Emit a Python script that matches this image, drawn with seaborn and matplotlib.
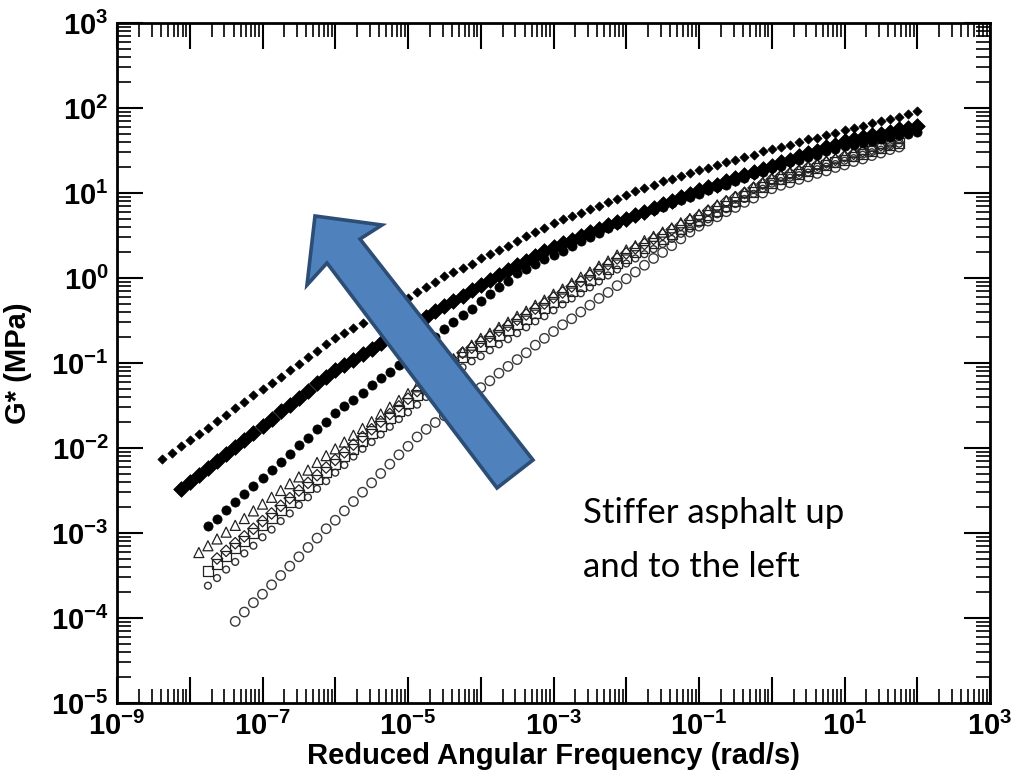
import numpy as np
import pandas as pd
import matplotlib
matplotlib.use("Agg")
import matplotlib.pyplot as plt
import seaborn as sns
from matplotlib.ticker import LogLocator, FuncFormatter, NullFormatter
from matplotlib.patches import Polygon

# ---------------- data (log10 values) ----------------
LOG_FREQ = [
    -8.375, -8.25, -8.125, -8.0, -7.875, -7.75, -7.625, -7.5,
    -7.375, -7.25, -7.125, -7.0, -6.875, -6.75, -6.625, -6.5,
    -6.375, -6.25, -6.125, -6.0, -5.875, -5.75, -5.625, -5.5,
    -5.375, -5.25, -5.125, -5.0, -4.875, -4.75, -4.625, -4.5,
    -4.375, -4.25, -4.125, -4.0, -3.875, -3.75, -3.625, -3.5,
    -3.375, -3.25, -3.125, -3.0, -2.875, -2.75, -2.625, -2.5,
    -2.375, -2.25, -2.125, -2.0, -1.875, -1.75, -1.625, -1.5,
    -1.375, -1.25, -1.125, -1.0, -0.875, -0.75, -0.625, -0.5,
    -0.375, -0.25, -0.125, 0.0, 0.125, 0.25, 0.375, 0.5,
    0.625, 0.75, 0.875, 1.0, 1.125, 1.25, 1.375, 1.5,
    1.625, 1.75, 1.875, 2.0,
]

# filled small diamonds (stiffest)
G_A_START = -8.375
G_A = [
    -2.13, -2.06, -1.98, -1.91, -1.83, -1.76, -1.68, -1.61,
    -1.53, -1.46, -1.38, -1.31, -1.23, -1.16, -1.08, -1.01,
    -0.93, -0.86, -0.78, -0.71, -0.65, -0.59, -0.53, -0.47,
    -0.41, -0.35, -0.29, -0.23, -0.17, -0.11, -0.05, 0.02,
    0.07, 0.12, 0.17, 0.23, 0.28, 0.33, 0.38, 0.44,
    0.49, 0.54, 0.59, 0.65, 0.69, 0.73, 0.77, 0.81,
    0.85, 0.89, 0.93, 0.98, 1.02, 1.06, 1.10, 1.14,
    1.17, 1.20, 1.24, 1.27, 1.30, 1.33, 1.36, 1.39,
    1.42, 1.45, 1.49, 1.52, 1.54, 1.57, 1.60, 1.63,
    1.65, 1.68, 1.71, 1.74, 1.76, 1.79, 1.82, 1.85,
    1.87, 1.90, 1.93, 1.96,
]
# filled large diamonds
G_B_START = -8.125
G_B = [
    -2.48, -2.40, -2.32, -2.23, -2.15, -2.07, -1.99, -1.90,
    -1.82, -1.74, -1.66, -1.57, -1.49, -1.41, -1.33, -1.24,
    -1.16, -1.08, -1.02, -0.96, -0.89, -0.83, -0.77, -0.71,
    -0.64, -0.58, -0.52, -0.46, -0.39, -0.33, -0.27, -0.21,
    -0.14, -0.08, -0.02, 0.03, 0.09, 0.15, 0.20, 0.26,
    0.32, 0.37, 0.41, 0.45, 0.49, 0.54, 0.58, 0.62,
    0.66, 0.70, 0.74, 0.78, 0.82, 0.87, 0.91, 0.95,
    0.99, 1.03, 1.07, 1.10, 1.14, 1.18, 1.21, 1.25,
    1.28, 1.32, 1.36, 1.39, 1.43, 1.47, 1.50, 1.54,
    1.57, 1.61, 1.63, 1.66, 1.68, 1.70, 1.72, 1.75,
    1.77, 1.79,
]
# filled circles
G_C_START = -7.75
G_C = [
    -2.92, -2.83, -2.73, -2.64, -2.54, -2.45, -2.35, -2.26,
    -2.16, -2.07, -1.97, -1.88, -1.78, -1.69, -1.59, -1.51,
    -1.43, -1.35, -1.26, -1.18, -1.10, -1.02, -0.93, -0.85,
    -0.77, -0.69, -0.60, -0.52, -0.44, -0.36, -0.27, -0.19,
    -0.11, -0.03, 0.06, 0.11, 0.17, 0.22, 0.27, 0.32,
    0.38, 0.43, 0.48, 0.53, 0.59, 0.64, 0.69, 0.73,
    0.77, 0.80, 0.84, 0.88, 0.92, 0.95, 0.99, 1.03,
    1.07, 1.10, 1.14, 1.18, 1.22, 1.25, 1.29, 1.32,
    1.36, 1.39, 1.42, 1.45, 1.49, 1.52, 1.55, 1.57,
    1.59, 1.61, 1.64, 1.66, 1.68, 1.70, 1.72,
]
# open triangles
G_D_START = -7.875
G_D = [
    -3.23, -3.15, -3.07, -2.99, -2.91, -2.83, -2.74, -2.66,
    -2.58, -2.50, -2.42, -2.34, -2.26, -2.17, -2.09, -2.01,
    -1.93, -1.85, -1.77, -1.69, -1.60, -1.52, -1.44, -1.36,
    -1.28, -1.20, -1.12, -1.03, -0.95, -0.87, -0.79, -0.71,
    -0.65, -0.58, -0.52, -0.45, -0.39, -0.32, -0.26, -0.19,
    -0.13, -0.06, 0.01, 0.07, 0.14, 0.20, 0.27, 0.33,
    0.38, 0.44, 0.49, 0.54, 0.59, 0.65, 0.70, 0.75,
    0.80, 0.86, 0.91, 0.96, 1.01, 1.07, 1.12, 1.17,
    1.21, 1.24, 1.27, 1.31, 1.34, 1.38, 1.41, 1.44,
    1.48, 1.51, 1.55, 1.58, 1.61, 1.64,
]
# open squares
G_E_START = -7.75
G_E = [
    -3.45, -3.36, -3.27, -3.18, -3.09, -3.00, -2.91, -2.82,
    -2.73, -2.64, -2.55, -2.46, -2.37, -2.28, -2.19, -2.10,
    -2.01, -1.92, -1.83, -1.74, -1.65, -1.56, -1.47, -1.38,
    -1.29, -1.20, -1.11, -1.02, -0.93, -0.87, -0.80, -0.74,
    -0.67, -0.61, -0.54, -0.48, -0.41, -0.35, -0.28, -0.22,
    -0.15, -0.09, -0.02, 0.05, 0.11, 0.18, 0.24, 0.30,
    0.35, 0.41, 0.46, 0.52, 0.57, 0.63, 0.68, 0.74,
    0.79, 0.85, 0.90, 0.96, 1.01, 1.07, 1.12, 1.16,
    1.19, 1.22, 1.26, 1.29, 1.33, 1.36, 1.39, 1.43,
    1.46, 1.49, 1.53, 1.56, 1.59,
]
# open diamonds
G_E2_START = -7.625
G_E2 = [
    -3.30, -3.21, -3.12, -3.04, -2.95, -2.86, -2.77, -2.68,
    -2.59, -2.50, -2.41, -2.32, -2.23, -2.14, -2.05, -1.96,
    -1.87, -1.78, -1.69, -1.60, -1.51, -1.42, -1.33, -1.24,
    -1.15, -1.06, -0.97, -0.88, -0.82, -0.75, -0.69, -0.62,
    -0.56, -0.49, -0.43, -0.36, -0.30, -0.23, -0.17, -0.10,
    -0.04, 0.03, 0.10, 0.16, 0.23, 0.29, 0.35, 0.40,
    0.46, 0.51, 0.57, 0.62, 0.68, 0.73, 0.79, 0.84,
    0.90, 0.95, 1.00, 1.06, 1.11, 1.16, 1.20, 1.23,
    1.26, 1.30, 1.33, 1.36, 1.39, 1.43, 1.46, 1.49,
    1.52, 1.56, 1.59,
]
# small open circles
G_F_START = -7.75
G_F = [
    -3.62, -3.53, -3.43, -3.34, -3.24, -3.15, -3.05, -2.96,
    -2.86, -2.77, -2.67, -2.58, -2.48, -2.39, -2.29, -2.20,
    -2.10, -2.01, -1.93, -1.84, -1.75, -1.66, -1.58, -1.49,
    -1.40, -1.31, -1.23, -1.14, -1.05, -0.98, -0.92, -0.85,
    -0.78, -0.72, -0.65, -0.58, -0.51, -0.45, -0.38, -0.31,
    -0.24, -0.18, -0.11, -0.04, 0.03, 0.10, 0.17, 0.23,
    0.28, 0.34, 0.40, 0.46, 0.52, 0.58, 0.64, 0.69,
    0.75, 0.81, 0.87, 0.93, 0.99, 1.05, 1.11, 1.14,
    1.18, 1.21, 1.24, 1.28, 1.31, 1.34, 1.38, 1.41,
    1.45, 1.48, 1.51, 1.55, 1.58,
]
# large open circles (softest)
G_G_START = -7.375
G_G = [
    -4.04, -3.93, -3.82, -3.72, -3.61, -3.50, -3.39, -3.28,
    -3.17, -3.06, -2.95, -2.85, -2.74, -2.63, -2.52, -2.41,
    -2.30, -2.19, -2.08, -1.98, -1.87, -1.78, -1.70, -1.62,
    -1.54, -1.45, -1.37, -1.29, -1.21, -1.12, -1.04, -0.96,
    -0.88, -0.79, -0.71, -0.63, -0.55, -0.48, -0.40, -0.32,
    -0.24, -0.17, -0.09, -0.01, 0.07, 0.15, 0.23, 0.30,
    0.38, 0.46, 0.54, 0.61, 0.67, 0.72, 0.78, 0.83,
    0.89, 0.94, 1.00, 1.05, 1.09, 1.12, 1.16, 1.19,
    1.23, 1.26, 1.30, 1.33, 1.37, 1.40, 1.44, 1.47,
    1.51, 1.54,
]

SERIES = {
    "G": (G_G_START, G_G),
    "F": (G_F_START, G_F),
    "E": (G_E_START, G_E),
    "E2": (G_E2_START, G_E2),
    "D": (G_D_START, G_D),
    "C": (G_C_START, G_C),
    "B": (G_B_START, G_B),
    "A": (G_A_START, G_A),
}

rows = []
for name, (start, vals) in SERIES.items():
    i0 = LOG_FREQ.index(start)
    for lf, lg in zip(LOG_FREQ[i0:i0 + len(vals)], vals):
        rows.append({"series": name, "freq": 10.0 ** lf, "gstar": 10.0 ** lg})
df = pd.DataFrame(rows)

# marker styles: marker, size, face, edge, linewidth
STYLES = {
    "G": ("o", 46, "none", "#3a3a3a", 1.0),
    "F": ("o", 24, "none", "#333333", 1.0),
    "E": ("s", 50, "none", "#222222", 0.9),
    "E2": ("D", 34, "none", "#222222", 0.9),
    "D": ("^", 52, "none", "#222222", 0.9),
    "C": ("o", 44, "black", "black", 0.5),
    "B": ("D", 64, "black", "black", 0.5),
    "A": ("D", 22, "black", "black", 0.5),
}

# ---------------- style ----------------
sns.set_style("ticks")
plt.rcParams["font.family"] = ["Liberation Sans", "DejaVu Sans"]
plt.rcParams["mathtext.fontset"] = "custom"
plt.rcParams["mathtext.bf"] = "Liberation Sans:bold"
plt.rcParams["mathtext.rm"] = "Liberation Sans:bold"
plt.rcParams["mathtext.it"] = "Liberation Sans:bold:italic"
plt.rcParams["text.color"] = "black"
plt.rcParams["axes.labelcolor"] = "black"
plt.rcParams["xtick.color"] = "black"
plt.rcParams["ytick.color"] = "black"
plt.rcParams["xtick.labelcolor"] = "black"
plt.rcParams["ytick.labelcolor"] = "black"

fig = plt.figure(figsize=(10.14, 7.78), dpi=100)
ax = fig.add_axes([117 / 1014, 1 - 703 / 778, 873 / 1014, 680 / 778])

for name in SERIES:
    mk, s, fc, ec, lw = STYLES[name]
    sns.scatterplot(data=df[df["series"] == name], x="freq", y="gstar", ax=ax,
                    marker=mk, s=s, facecolor=fc, edgecolor=ec, linewidth=lw,
                    legend=False, zorder=3)

ax.set_xscale("log")
ax.set_yscale("log")
ax.set_xlim(1e-9, 1e3)
ax.set_ylim(1e-5, 1e3)

ax.xaxis.set_major_locator(LogLocator(base=10, numticks=30))
ax.yaxis.set_major_locator(LogLocator(base=10, numticks=30))
ax.xaxis.set_minor_locator(LogLocator(base=10, subs=np.arange(2, 10), numticks=30))
ax.yaxis.set_minor_locator(LogLocator(base=10, subs=np.arange(2, 10), numticks=30))
ax.xaxis.set_minor_formatter(NullFormatter())
ax.yaxis.set_minor_formatter(NullFormatter())


def xfmt(v, pos):
    e = int(round(np.log10(v)))
    return r"$\mathbf{10^{%d}}$" % e if e % 2 != 0 else ""


def yfmt(v, pos):
    e = int(round(np.log10(v)))
    return r"$\mathbf{10^{%d}}$" % e


ax.xaxis.set_major_formatter(FuncFormatter(xfmt))
ax.yaxis.set_major_formatter(FuncFormatter(yfmt))

ax.tick_params(which="major", direction="in", length=19, width=1.5,
               top=True, right=True, labelsize=21, pad=6, color="black",
               labelcolor="black")
ax.tick_params(which="minor", direction="in", length=10, width=1.2,
               top=True, right=True, color="black")
for sp in ax.spines.values():
    sp.set_linewidth(2)
    sp.set_color("black")

ax.set_xlabel("Reduced Angular Frequency (rad/s)", fontsize=21,
              fontweight="bold", color="black")
ax.xaxis.set_label_coords(0.5, -0.058)
ax.set_ylabel("G* (MPa)", fontsize=21, fontweight="bold", color="black")
ax.yaxis.set_label_coords(-0.097, 0.5)

# ---------------- annotation arrow & text ----------------
arrow_px = [(315, 216), (382, 225), (360, 239), (533, 460),
            (497, 488), (327, 263), (307, 285)]
arrow_fig = [(x / 1014, 1 - y / 778) for x, y in arrow_px]
fig.patches.append(Polygon(arrow_fig, closed=True, transform=fig.transFigure,
                           facecolor="#4F81BD", edgecolor="#2C4D75",
                           linewidth=2.6, zorder=10))

fig.text(583 / 1014, 1 - 513 / 778, "Stiffer asphalt up", fontsize=25,
         family=["Lato", "DejaVu Sans"], va="center", ha="left", color="black")
fig.text(583 / 1014, 1 - 567 / 778, "and to the left", fontsize=25,
         family=["Lato", "DejaVu Sans"], va="center", ha="left", color="black")

fig.savefig("out.png", dpi=100)
